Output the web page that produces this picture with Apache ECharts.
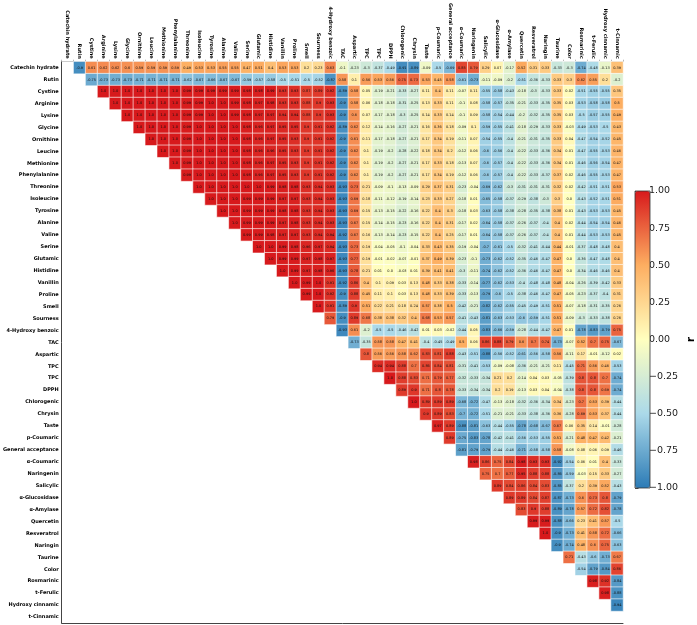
<!DOCTYPE html>
<html>
<head>
<meta charset="utf-8">
<script src="https://cdn.jsdelivr.net/npm/echarts@6/dist/echarts.min.js"></script>
<style>html,body{margin:0;padding:0;background:#fff}#c{width:697px;height:625px}</style>
</head>
<body>
<div id="c"></div>
<script>
// Variable names (rows top->bottom, columns left->right)
const labels = ['Catechin hydrate','Rutin','Cystine','Arginine','Lysine','Glycine','Ornithine','Leucine','Methionine','Phenylalanine','Threonine','Isoleucine','Tyrosine','Alanine','Valine','Serine','Glutamic','Histidine','Vanillin','Proline','Smell','Sourness','4-Hydroxy benzoic','TAC','Aspartic','TPC','TPC','DPPH','Chlorogenic','Chrysin','Taste','p-Coumaric','General acceptance','α-Coumaric','Naringenin','Salicylic','α-Glucosidase','α-Amylase','Quercetin','Resveratrol','Naringin','Taurine','Color','Rosmarinic','t-Ferulic','Hydroxy cinnamic','t-Cinnamic'];

// Upper-triangle correlation values: row i holds columns i+1 .. 46
const r00 = [-0.9,0.61,0.62,0.62,0.6,0.59,0.59,0.59,0.59,0.49,0.53,0.53,0.55,0.55,0.47,0.51,0.4,0.53,0.53,0.2,0.23,0.63,-0.1,-0.23,-0.3,-0.37,-0.49,-0.91,-0.89,-0.09,-0.5,-0.69,0.85,0.79,0.29,0.07,-0.17,0.52,0.31,0.33,-0.33,-0.3,-0.74,-0.48,-0.13,0.39];
const r01 = [-0.75,-0.73,-0.73,-0.73,-0.71,-0.71,-0.71,-0.71,-0.62,-0.67,-0.66,-0.67,-0.67,-0.59,-0.57,-0.58,-0.5,-0.51,-0.5,-0.52,-0.87,0.58,0.1,0.56,0.53,0.56,0.75,0.73,0.53,0.45,0.58,-0.61,-0.73,-0.11,-0.09,-0.2,-0.51,-0.36,-0.33,0.33,0.3,0.62,0.55,0.2,-0.2];
const r02 = [1.0,1.0,1.0,1.0,1.0,1.0,1.0,0.99,0.99,0.99,0.99,0.99,0.98,0.98,0.99,0.93,0.93,0.87,0.89,0.92,-0.89,0.58,0.05,-0.19,-0.21,-0.33,-0.27,0.11,0.4,0.11,-0.07,0.11,-0.55,-0.58,-0.43,-0.18,-0.3,-0.33,0.33,0.02,-0.51,-0.55,-0.55,0.35];
const r03 = [1.0,1.0,1.0,1.0,1.0,1.0,0.99,0.99,1.0,1.0,0.99,0.98,0.97,0.98,0.93,0.93,0.88,0.9,0.93,-0.9,0.58,0.06,-0.18,-0.18,-0.31,-0.25,0.13,0.33,0.11,-0.1,0.08,-0.58,-0.57,-0.35,-0.21,-0.33,-0.35,0.35,0.03,-0.53,-0.58,-0.58,0.5];
const r04 = [1.0,1.0,1.0,1.0,1.0,0.99,0.99,1.0,1.0,0.99,0.98,0.97,0.97,0.94,0.94,0.88,0.9,0.93,-0.9,0.6,0.07,-0.17,-0.18,-0.3,-0.25,0.14,0.33,0.14,-0.1,0.09,-0.58,-0.54,-0.44,-0.2,-0.32,-0.35,0.35,0.03,-0.5,-0.57,-0.55,0.49];
const r05 = [1.0,1.0,1.0,1.0,0.99,1.0,1.0,1.0,1.0,0.98,0.96,0.97,0.95,0.95,0.9,0.91,0.92,-0.89,0.62,0.12,-0.14,-0.16,-0.27,-0.21,0.16,0.36,0.18,-0.09,0.1,-0.59,-0.55,-0.41,-0.18,-0.29,-0.33,0.33,-0.03,-0.49,-0.53,-0.5,0.43];
const r06 = [1.0,1.0,1.0,0.99,1.0,1.0,1.0,1.0,0.98,0.96,0.97,0.95,0.93,0.9,0.91,0.92,-0.9,0.61,0.11,-0.17,-0.18,-0.27,-0.21,0.17,0.34,0.19,-0.11,0.07,-0.54,-0.55,-0.4,-0.21,-0.31,-0.35,0.33,0.04,-0.47,-0.54,-0.52,0.45];
const r07 = [1.0,1.0,0.99,1.0,1.0,1.0,1.0,0.98,0.96,0.96,0.95,0.93,0.9,0.91,0.92,-0.9,0.62,0.1,-0.19,-0.2,-0.28,-0.22,0.18,0.34,0.2,-0.12,0.06,-0.6,-0.56,-0.4,-0.22,-0.33,-0.36,0.34,0.01,-0.47,-0.55,-0.53,0.46];
const r08 = [1.0,0.99,1.0,1.0,1.0,1.0,0.98,0.96,0.97,0.95,0.93,0.9,0.91,0.92,-0.9,0.62,0.1,-0.19,-0.2,-0.27,-0.21,0.17,0.33,0.18,-0.13,0.07,-0.6,-0.57,-0.4,-0.22,-0.33,-0.36,0.34,0.01,-0.46,-0.56,-0.54,0.47];
const r09 = [0.99,1.0,1.0,1.0,1.0,0.98,0.96,0.97,0.95,0.93,0.9,0.91,0.92,-0.9,0.62,0.1,-0.19,-0.2,-0.27,-0.21,0.17,0.34,0.19,-0.12,0.06,-0.6,-0.57,-0.4,-0.22,-0.33,-0.37,0.37,0.02,-0.46,-0.55,-0.53,0.47];
const r10 = [1.0,1.0,1.0,1.0,1.0,1.0,0.99,0.98,0.98,0.93,0.94,0.93,-0.93,0.73,0.21,-0.09,-0.1,-0.13,-0.09,0.29,0.37,0.31,-0.23,-0.04,-0.69,-0.62,-0.3,-0.31,-0.31,-0.31,0.32,0.02,-0.42,-0.51,-0.51,0.53];
const r11 = [1.0,1.0,1.0,0.99,0.99,0.99,0.97,0.97,0.93,0.94,0.93,-0.93,0.69,0.18,-0.11,-0.12,-0.19,-0.14,0.23,0.33,0.27,-0.18,0.01,-0.65,-0.58,-0.37,-0.29,-0.38,-0.3,0.3,0.0,-0.43,-0.52,-0.51,0.51];
const r12 = [1.0,1.0,0.99,0.99,0.99,0.98,0.98,0.93,0.94,0.93,-0.93,0.69,0.15,-0.13,-0.15,-0.22,-0.16,0.22,0.4,0.3,-0.18,0.03,-0.63,-0.58,-0.38,-0.28,-0.35,-0.38,0.38,0.01,-0.43,-0.53,-0.53,0.45];
const r13 = [1.0,0.99,0.99,0.99,0.97,0.98,0.93,0.94,0.93,-0.93,0.67,0.15,-0.14,-0.15,-0.23,-0.16,0.22,0.4,0.31,-0.17,0.02,-0.64,-0.58,-0.37,-0.26,-0.37,-0.4,0.4,0.02,-0.44,-0.54,-0.54,0.46];
const r14 = [0.99,0.99,0.98,0.97,0.97,0.93,0.94,0.94,-0.92,0.67,0.16,-0.13,-0.14,-0.23,-0.15,0.22,0.4,0.25,-0.17,0.01,-0.64,-0.58,-0.37,-0.26,-0.37,-0.4,0.4,0.01,-0.44,-0.53,-0.53,0.45];
const r15 = [1.0,1.0,0.99,0.98,0.96,0.97,0.94,-0.93,0.73,0.19,-0.04,-0.05,-0.1,-0.04,0.33,0.43,0.35,-0.19,-0.04,-0.7,-0.61,-0.5,-0.32,-0.41,-0.44,0.44,-0.01,-0.37,-0.48,-0.48,0.4];
const r16 = [1.0,0.99,0.99,0.97,0.98,0.97,-0.93,0.77,0.19,-0.01,-0.02,-0.07,-0.01,0.37,0.49,0.39,-0.23,-0.1,-0.73,-0.62,-0.52,-0.35,-0.46,-0.47,0.47,0.0,-0.36,-0.47,-0.48,0.4];
const r17 = [1.0,0.99,0.97,0.98,0.96,-0.93,0.78,0.21,0.01,0.0,-0.03,0.01,0.39,0.41,0.41,-0.3,-0.11,-0.74,-0.62,-0.52,-0.36,-0.46,-0.47,0.47,0.0,-0.34,-0.46,-0.46,0.4];
const r18 = [1.0,0.99,1.0,0.91,-0.92,0.86,0.4,0.1,0.09,0.03,0.13,0.48,0.33,0.38,-0.33,-0.14,-0.77,-0.62,-0.53,-0.4,-0.48,-0.48,0.48,-0.04,-0.26,-0.39,-0.42,0.33];
const r19 = [0.99,1.0,0.92,-0.9,0.88,0.45,0.11,0.1,0.03,0.13,0.48,0.33,0.39,-0.33,-0.13,-0.79,-0.6,-0.5,-0.38,-0.46,-0.47,0.47,-0.05,-0.23,-0.37,-0.4,0.31];
const r20 = [1.0,0.91,-0.89,0.9,0.51,0.22,0.21,0.18,0.24,0.57,0.38,0.5,-0.42,-0.21,-0.82,-0.62,-0.55,-0.45,-0.49,-0.51,0.51,-0.07,-0.18,-0.31,-0.35,0.26];
const r21 = [0.79,-0.9,0.89,0.68,0.38,0.38,0.32,0.4,0.68,0.53,0.57,-0.41,-0.43,-0.81,-0.63,-0.53,-0.6,-0.59,-0.51,0.51,-0.09,-0.3,-0.33,-0.38,0.26];
const r22 = [-0.93,0.61,-0.2,-0.5,-0.5,-0.46,-0.42,0.01,0.03,-0.02,-0.44,0.05,-0.83,-0.66,-0.59,-0.28,-0.44,-0.47,0.47,0.01,-0.78,-0.83,-0.79,0.75];
const r23 = [-0.73,-0.35,0.58,0.58,0.47,0.41,-0.4,-0.45,-0.49,0.5,0.06,0.86,0.88,0.79,0.6,0.7,0.74,-0.73,-0.07,0.52,0.7,0.75,-0.67];
const r24 = [0.8,0.56,0.56,0.58,0.62,0.83,0.81,0.88,-0.43,-0.51,-0.88,-0.56,-0.52,-0.61,-0.56,-0.58,0.56,-0.11,0.17,-0.01,-0.12,0.02];
const r25 = [0.94,0.94,0.88,0.7,0.86,0.84,0.81,-0.31,-0.41,-0.53,-0.09,-0.08,-0.36,-0.21,-0.21,0.11,-0.45,0.71,0.56,0.46,-0.53];
const r26 = [1.0,0.88,0.83,0.71,0.79,0.77,-0.32,-0.33,-0.34,0.21,0.2,-0.14,0.04,0.03,-0.05,-0.39,0.8,0.8,0.7,-0.74];
const r27 = [0.89,0.9,0.71,0.8,0.78,-0.33,-0.34,-0.34,0.2,0.19,-0.13,0.03,0.04,-0.04,-0.38,0.8,0.8,0.69,-0.74];
const r28 = [1.0,0.89,0.89,0.89,-0.68,-0.72,-0.47,-0.13,-0.18,-0.32,-0.36,-0.34,0.34,-0.23,0.7,0.53,0.39,-0.44];
const r29 = [0.9,0.89,0.83,-0.7,-0.72,-0.51,-0.21,-0.21,-0.33,-0.38,-0.36,0.36,-0.28,0.69,0.53,0.37,-0.44];
const r30 = [0.97,0.89,-0.88,-0.81,-0.63,-0.44,-0.55,-0.78,-0.68,-0.67,0.67,0.06,0.35,0.14,-0.01,-0.28];
const r31 = [0.89,-0.75,-0.83,-0.78,-0.42,-0.41,-0.56,-0.53,-0.55,0.51,-0.21,0.48,0.47,0.42,-0.21];
const r32 = [-0.81,-0.79,-0.79,-0.44,-0.46,-0.71,-0.58,-0.58,0.58,-0.08,0.08,0.06,0.09,-0.46];
const r33 = [0.98,0.86,0.75,0.84,0.98,0.93,0.93,-0.92,-0.54,0.06,0.01,0.4,-0.33];
const r34 = [0.75,0.7,0.77,0.95,0.88,0.88,-0.86,-0.59,-0.03,0.15,0.33,-0.27];
const r35 = [0.89,0.84,0.86,0.84,0.83,-0.85,-0.37,0.2,0.39,0.52,-0.43];
const r36 = [0.89,0.89,0.84,0.87,-0.87,-0.73,0.6,0.73,0.8,-0.79];
const r37 = [0.83,0.9,0.88,-0.89,-0.78,0.57,0.72,0.82,-0.78];
const r38 = [0.99,0.99,-0.88,-0.66,0.23,0.41,0.57,-0.5];
const r39 = [1.0,-0.9,-0.73,0.41,0.58,0.72,-0.66];
const r40 = [-0.9,-0.74,0.48,0.6,0.75,-0.63];
const r41 = [0.71,-0.43,-0.6,-0.73,0.67];
const r42 = [-0.54,-0.79,-0.84,0.86];
const r43 = [0.98,0.92,-0.84];
const r44 = [0.98,-0.88];
const r45 = [-0.94];

// Colour-bar ticks
const cbarMin = -1, cbarMax = 1, cbarStep = 0.25;
const palette = ['#2c7bb6','#abd9e9','#ffffbf','#fdae61','#d7191c'];

const rows = [r00,r01,r02,r03,r04,r05,r06,r07,r08,r09,r10,r11,r12,r13,r14,r15,r16,r17,r18,r19,r20,r21,r22,r23,r24,r25,r26,r27,r28,r29,r30,r31,r32,r33,r34,r35,r36,r37,r38,r39,r40,r41,r42,r43,r44,r45];
const data = [];
rows.forEach((row, i) => {
  row.forEach((v, k) => { data.push([i + 1 + k, i, v]); });
});
const fmt = v => Number.isInteger(v) ? v.toFixed(1) : String(v);
const FONT = 'DejaVu Sans';

const chart = echarts.init(document.getElementById('c'), null, {renderer: 'canvas'});
chart.setOption({
  backgroundColor: '#fff',
  animation: false,
  grid: [
    {left: 54, top: 53, width: 569, height: 570},
    {left: 635, top: 191, width: 15, height: 297}
  ],
  xAxis: [
    {type: 'category', data: labels, gridIndex: 0, position: 'top',
     axisLabel: {interval: 0, rotate: 90, fontSize: 5, fontWeight: 'bold', color: '#000', fontFamily: FONT, margin: 3},
     axisTick: {show: true, length: 2, lineStyle: {color: '#888', width: 0.6}},
     axisLine: {show: true, lineStyle: {color: '#aaa', width: 0.6}},
     splitLine: {show: false}},
    {type: 'category', data: labels, gridIndex: 0, position: 'bottom',
     axisLabel: {show: false}, axisTick: {show: false},
     axisLine: {show: true, lineStyle: {color: '#444', width: 1}}},
    {type: 'value', gridIndex: 1, show: false, min: 0, max: 1}
  ],
  yAxis: [
    {type: 'category', data: labels, gridIndex: 0, inverse: true,
     axisLabel: {interval: 0, fontSize: 5, fontWeight: 'bold', color: '#000', fontFamily: FONT, margin: 3},
     axisTick: {show: false},
     axisLine: {show: true, lineStyle: {color: '#444', width: 1}},
     splitLine: {show: false}},
    {type: 'value', gridIndex: 1, position: 'right', min: cbarMin, max: cbarMax, interval: cbarStep,
     axisLine: {show: false},
     axisTick: {show: true, length: 3.5, lineStyle: {color: '#222', width: 0.8}},
     axisLabel: {fontSize: 9.5, color: '#222', fontFamily: FONT, margin: 3,
       formatter: v => (v < 0 ? '\u2212' : '') + Math.abs(v).toFixed(2)},
     splitLine: {show: false},
     name: 'r', nameLocation: 'middle', nameRotate: 90, nameGap: 40,
     nameTextStyle: {fontSize: 10, fontWeight: 'bold', color: '#000', fontFamily: FONT}}
  ],
  visualMap: {
    type: 'continuous', min: cbarMin, max: cbarMax, dimension: 2, seriesIndex: 0,
    calculable: false, hoverLink: false, orient: 'vertical',
    left: 635, top: 191, itemWidth: 15, itemHeight: 297, padding: 0,
    text: null, showLabel: false,
    inRange: {color: palette}
  },
  graphic: [{
    type: 'rect', z: 100, silent: true,
    shape: {x: 635, y: 191, width: 15, height: 297},
    style: {fill: 'none', stroke: '#333', lineWidth: 0.8}
  }],
  series: [{
    type: 'heatmap', xAxisIndex: 0, yAxisIndex: 0, data: data,
    itemStyle: {borderColor: '#fff', borderWidth: 0.6},
    label: {show: true, fontSize: 3.5, color: '#111', fontFamily: FONT,
      formatter: p => fmt(p.value[2])},
    emphasis: {disabled: true}
  }]
});
</script>
</body>
</html>
